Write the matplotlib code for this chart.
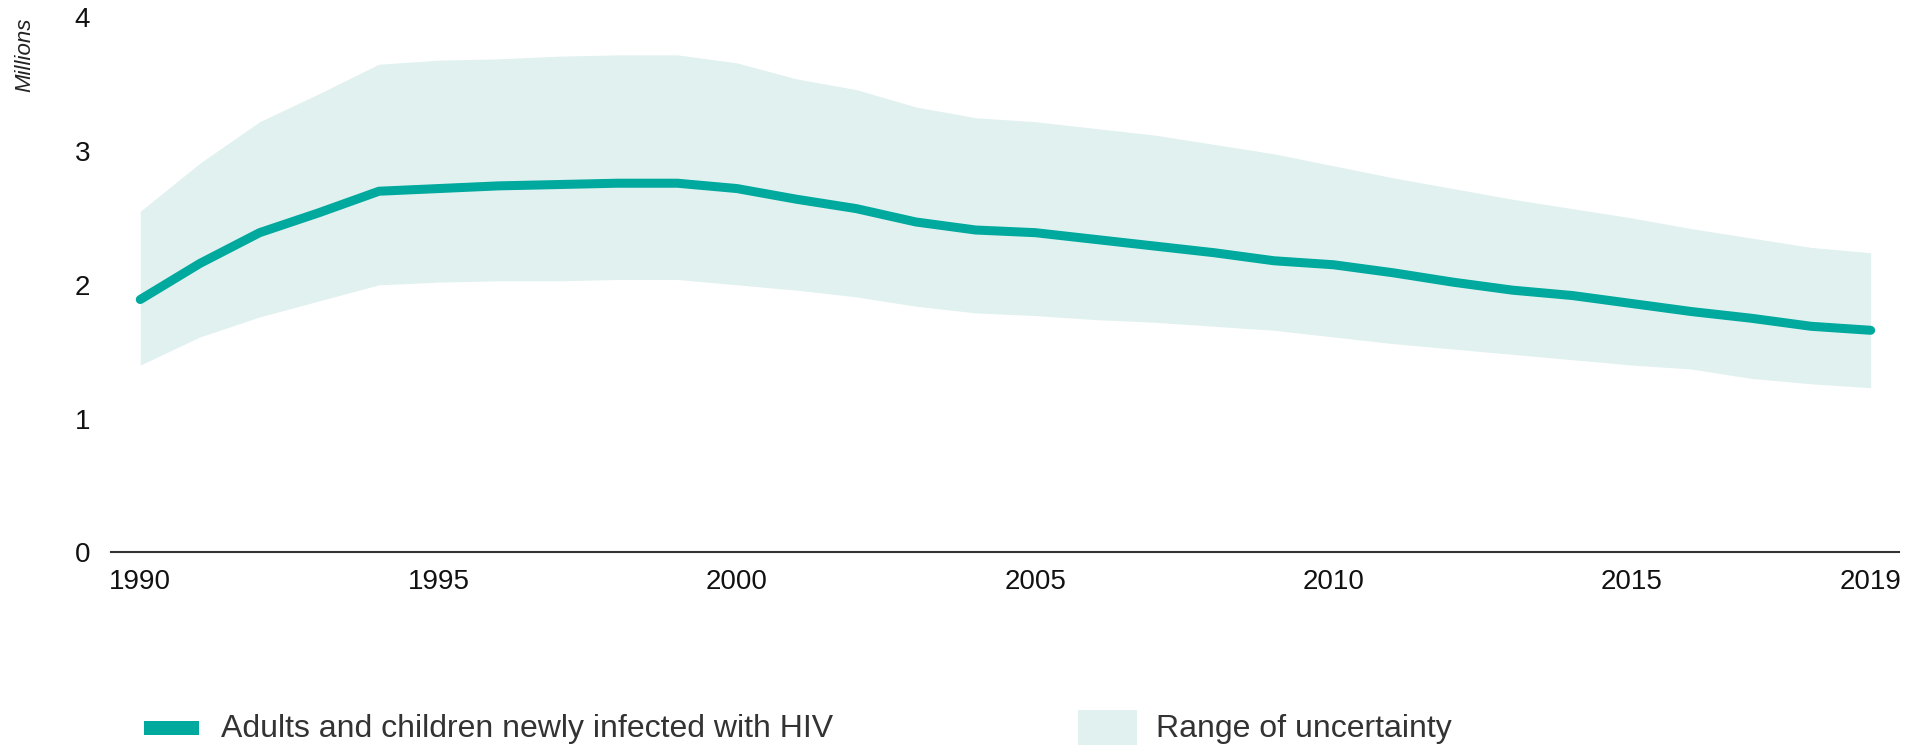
import matplotlib.pyplot as plt
from matplotlib.patches import Rectangle

plt.rcParams['font.family'] = ['Liberation Sans', 'DejaVu Sans']

# Data (millions)
years = list(range(1990, 2020))
new_infections = [1.89, 2.16, 2.39, 2.54, 2.70, 2.72, 2.74, 2.75, 2.76, 2.76,
                  2.72, 2.64, 2.57, 2.47, 2.41, 2.39, 2.34, 2.29, 2.24, 2.18,
                  2.15, 2.09, 2.02, 1.96, 1.92, 1.86, 1.80, 1.75, 1.69, 1.66]
upper = [2.55, 2.91, 3.22, 3.43, 3.65, 3.68, 3.69, 3.71, 3.72, 3.72,
         3.66, 3.54, 3.46, 3.33, 3.25, 3.22, 3.17, 3.12, 3.05, 2.98,
         2.89, 2.80, 2.72, 2.64, 2.57, 2.50, 2.42, 2.35, 2.28, 2.24]
lower = [1.40, 1.61, 1.76, 1.88, 2.00, 2.02, 2.03, 2.03, 2.04, 2.04,
         2.00, 1.96, 1.91, 1.84, 1.79, 1.77, 1.74, 1.72, 1.69, 1.66,
         1.61, 1.56, 1.52, 1.48, 1.44, 1.40, 1.37, 1.30, 1.26, 1.23]
xticks = [1990, 1995, 2000, 2005, 2010, 2015, 2019]
yticks = [0, 1, 2, 3, 4]

line_color = '#00A99D'
band_color = '#E1F1F0'

fig = plt.figure(figsize=(19.14, 7.47), dpi=100)
ax = fig.add_axes([0.058, 0.2607, 0.934, 0.716])

ax.fill_between(years, lower, upper, color=band_color, lw=0)
ax.plot(years, new_infections, color=line_color, lw=6.5, solid_capstyle='round')

ax.set_xlim(1989.51, 2019.47)
ax.set_ylim(0, 4)
ax.set_xticks(xticks)
ax.set_yticks(yticks)
ax.tick_params(axis='both', length=0, labelsize=20, colors='#111111')
ax.tick_params(axis='y', pad=15)
ax.tick_params(axis='x', pad=12)

for s in ['top', 'right', 'left']:
    ax.spines[s].set_visible(False)
ax.spines['bottom'].set_color('#333333')
ax.spines['bottom'].set_linewidth(1.5)
ax.spines['bottom'].set_zorder(0)

fig.text(0.0128, 0.977, 'Millions', rotation=90, ha='center', va='top',
         fontsize=16, style='italic', color='#222222')

# legend
fig.add_artist(Rectangle((0.075, 0.0164), 0.0288, 0.018, transform=fig.transFigure,
                         color=line_color, lw=0))
fig.text(0.1154, 0.0246, 'Adults and children newly infected with HIV',
         ha='left', va='center', fontsize=23, color='#333333')
fig.add_artist(Rectangle((0.563, 0.003), 0.031, 0.046, transform=fig.transFigure,
                         color=band_color, lw=0))
fig.text(0.604, 0.0246, 'Range of uncertainty',
         ha='left', va='center', fontsize=23, color='#333333')

fig.savefig('out.png', dpi=100)
